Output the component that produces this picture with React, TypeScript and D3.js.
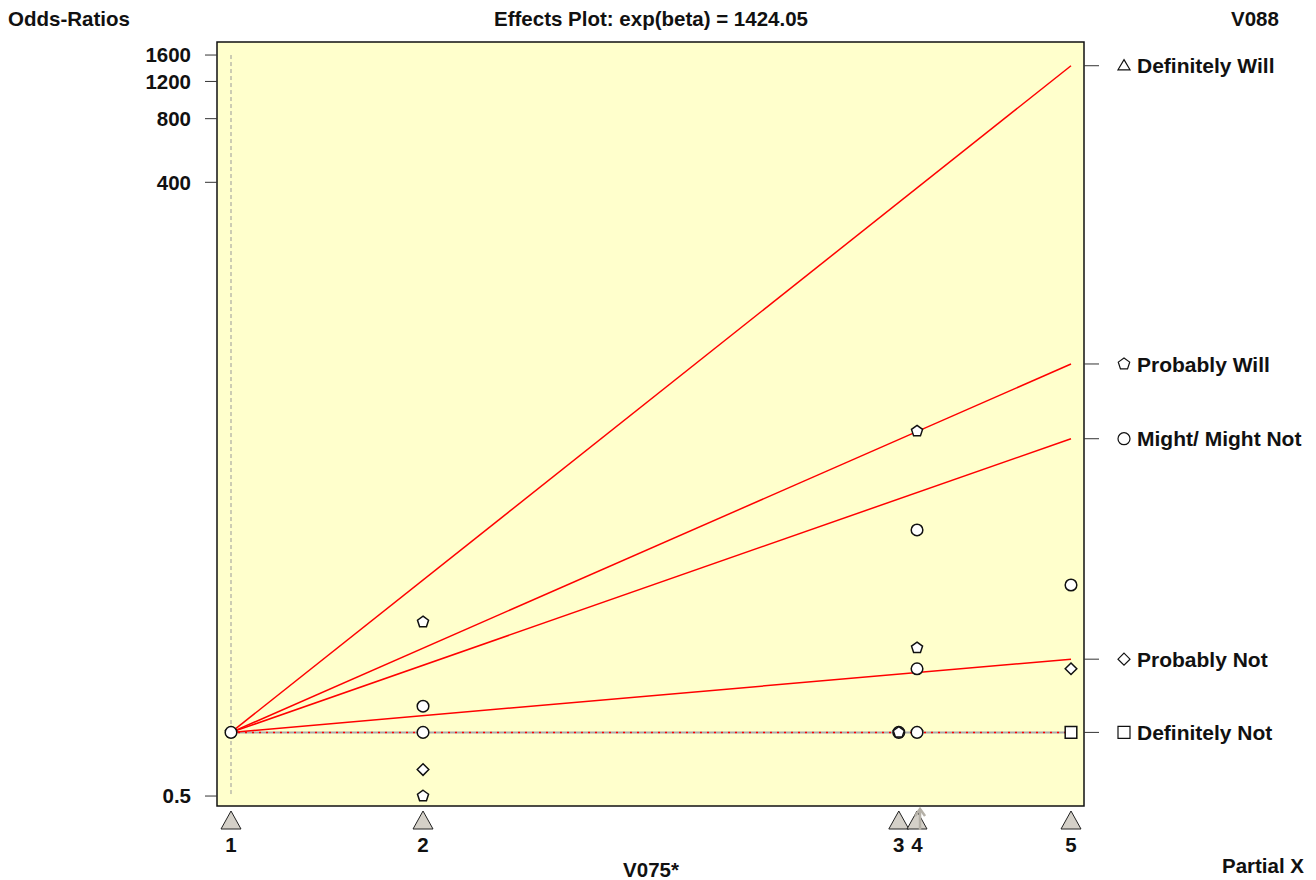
import React from "react";
import * as d3 from "d3";

const categories = ["1", "2", "3", "4", "5"];
const partialX = [0, 0.2286, 0.795, 0.8167, 1];

const seriesNames = ["Definitely Will", "Probably Will", "Might/ Might Not", "Probably Not", "Definitely Not"];
const seriesSymbols = ["triangle", "pentagon", "circle", "diamond", "square"];
const seriesEndOR = [1424.05, 55.3, 24.5, 2.22, 1];

const yTicks = [0.5, 400, 800, 1200, 1600];

// observed points: category index, odds ratio, series index
const pointCat = [0, 0, 1, 1, 1, 1, 1, 2, 2, 3, 3, 3, 3, 3, 3, 4, 4, 4];
const pointOR = [1, 1, 3.33, 1.33, 1, 0.667, 0.5, 1, 1, 26.6, 9.07, 2.51, 2.0, 1, 1, 4.98, 2.0, 1];
const pointSeries = [1, 2, 1, 2, 2, 3, 1, 2, 1, 1, 2, 1, 2, 1, 2, 2, 3, 4];

const W = 1316, H = 880;
const PL = 217, PR = 1084, PT = 42, PB = 806;

function markerPath(type: string, r: number): string {
  if (type === "circle") return d3.symbol(d3.symbolCircle, Math.PI * r * r)() as string;
  if (type === "square") {
    return `M${-r},${-r}H${r}V${r}H${-r}Z`;
  }
  if (type === "diamond") {
    return `M0,${-r}L${r},0L0,${r}L${-r},0Z`;
  }
  if (type === "triangle") {
    const h = r * 1.7;
    return `M0,${-h * 0.6}L${r},${h * 0.4}L${-r},${h * 0.4}Z`;
  }
  // pentagon
  const pts = d3.range(5).map((i) => {
    const a = -Math.PI / 2 + (i * 2 * Math.PI) / 5;
    return [r * Math.cos(a), r * Math.sin(a)];
  });
  return "M" + pts.map((p) => p[0].toFixed(2) + "," + p[1].toFixed(2)).join("L") + "Z";
}

export default function App() {
  const x = d3.scaleLinear().domain([0, 1]).range([231, 1071]);
  const y = d3.scaleLog().domain([0.4486, 1844]).range([PB, PT]);
  const font = "'Liberation Sans', Arial, Helvetica, sans-serif";
  const fs = 20.5;
  const lfs = 21;

  return (
    <svg width={W} height={H} style={{ position: "absolute", left: 0, top: 0, background: "#fff" }} fontFamily={font}>
      <rect x={PL} y={PT} width={PR - PL} height={PB - PT} fill="#FFFFCC" />
      {/* vertical dashed reference */}
      <line x1={x(0)} x2={x(0)} y1={y(1600)} y2={y(0.5)} stroke="#999" strokeWidth={1} strokeDasharray="4,3" />
      {/* baseline */}
      <line x1={x(0)} x2={x(1)} y1={y(1)} y2={y(1)} stroke="#aaa" strokeWidth={2} />
      <line x1={x(0)} x2={x(1)} y1={y(1)} y2={y(1)} stroke="red" strokeWidth={1.5} strokeDasharray="2,5" />
      {/* effect lines */}
      {seriesEndOR.map((v, i) =>
        v !== 1 ? (
          <line key={i} x1={x(0)} y1={y(1)} x2={x(1)} y2={y(v)} stroke="red" strokeWidth={1.5} />
        ) : null
      )}
      {/* points */}
      {pointCat.map((c, i) => (
        <path
          key={i}
          d={markerPath(seriesSymbols[pointSeries[i]], 5.8)}
          transform={`translate(${x(partialX[c])},${y(pointOR[i])})`}
          fill="#fff"
          stroke="#111"
          strokeWidth={1.5}
        />
      ))}
      <rect x={PL} y={PT} width={PR - PL} height={PB - PT} fill="none" stroke="#111" strokeWidth={1.5} />
      {/* y axis ticks */}
      {yTicks.map((t) => (
        <g key={t}>
          <line x1={205} x2={PL} y1={y(t)} y2={y(t)} stroke="#333" strokeWidth={1} />
          <text x={191} y={y(t)} dy="0.36em" textAnchor="end" fontSize={fs} fontWeight="bold" fill="#111">
            {t}
          </text>
        </g>
      ))}
      {/* right legend */}
      {seriesNames.map((n, i) => (
        <g key={n}>
          <line x1={PR} x2={1099} y1={y(seriesEndOR[i])} y2={y(seriesEndOR[i])} stroke="#333" strokeWidth={1} />
          <path d={markerPath(seriesSymbols[i], 6)} transform={`translate(1124,${y(seriesEndOR[i])})`} fill="#fff" stroke="#111" strokeWidth={1.2} />
          <text x={1137} y={y(seriesEndOR[i])} dy="0.36em" fontSize={lfs} fontWeight="bold" fill="#111">
            {n}
          </text>
        </g>
      ))}
      {/* bottom category markers */}
      {categories.map((c, i) => (
        <g key={c}>
          <path
            d={`M${x(partialX[i])},811L${x(partialX[i]) + 10},829L${x(partialX[i]) - 10},829Z`}
            fill="#d4d0c8"
            stroke="#222"
            strokeWidth={1}
          />
          <text x={x(partialX[i])} y={852} textAnchor="middle" fontSize={fs} fontWeight="bold" fill="#111">
            {c}
          </text>
        </g>
      ))}
      {/* arrow at 4 */}
      <g stroke="#b5b1a8" strokeWidth={2.5} fill="none">
        <line x1={x(partialX[3]) + 3} x2={x(partialX[3]) + 3} y1={830} y2={810} />
        <path d={`M${x(partialX[3]) - 2},816L${x(partialX[3]) + 3},809L${x(partialX[3]) + 8},816`} />
      </g>
      {/* titles */}
      <text x={8} y={26} fontSize={fs} fontWeight="bold" fill="#111">Odds-Ratios</text>
      <text x={651} y={26} textAnchor="middle" fontSize={fs} fontWeight="bold" fill="#111">
        Effects Plot: exp(beta) = 1424.05
      </text>
      <text x={1255} y={26} textAnchor="middle" fontSize={fs} fontWeight="bold" fill="#111">V088</text>
      <text x={651} y={877} textAnchor="middle" fontSize={fs} fontWeight="bold" fill="#111">V075*</text>
      <text x={1304} y={873} textAnchor="end" fontSize={fs} fontWeight="bold" fill="#111">Partial X</text>
    </svg>
  );
}
